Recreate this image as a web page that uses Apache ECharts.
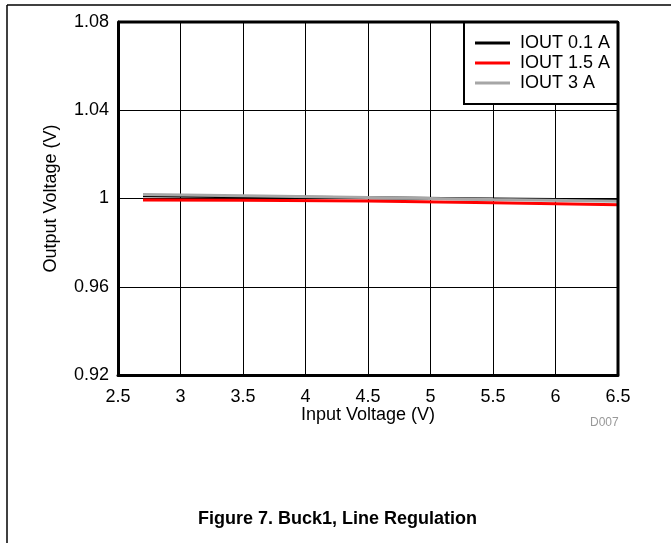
<!DOCTYPE html>
<html>
<head>
<meta charset="utf-8">
<script src="https://cdn.jsdelivr.net/npm/echarts@6/dist/echarts.min.js"></script>
<style>
  html, body { margin: 0; padding: 0; background: #fff; }
  #chart { width: 671px; height: 543px; }
</style>
</head>
<body>
<div id="chart"></div>
<script>
// input voltage points (V)
const vin = [2.7, 3.5, 4.5, 5.5, 6.5];
// output voltage per load current (V)
const iout01 = [1.0012, 1.0008, 1.0003, 0.9998, 0.9993];
const iout15 = [0.9993, 0.9992, 0.9989, 0.9981, 0.9972];
const iout3 = [1.0018, 1.0012, 1.0004, 0.9995, 0.9987];
const seriesNames = ['IOUT 0.1 A', 'IOUT 1.5 A', 'IOUT 3 A'];
const seriesColors = ['#000000', '#ff0000', '#a6a6a6'];

const font = 'Liberation Sans, Arial, sans-serif';
const chart = echarts.init(document.getElementById('chart'));

function pairs(ys) {
    return vin.map((x, i) => [x, ys[i]]);
}

const seriesData = [iout01, iout15, iout3];

const option = {
    animation: false,
    backgroundColor: '#fff',
    textStyle: { fontFamily: font },
    grid: { left: 118, right: 53, top: 22, bottom: 168 },
    legend: {
        orient: 'vertical',
        left: 464,
        top: 22,
        backgroundColor: '#fff',
        borderColor: '#000',
        borderWidth: 2,
        borderRadius: 0,
        padding: [11, 8, 11, 11],
        itemGap: 0,
        itemWidth: 35,
        itemHeight: 3,
        icon: 'rect',
        textStyle: { fontSize: 18, color: '#000', fontFamily: font, padding: [0, 0, 0, 5], lineHeight: 20 },
        data: seriesNames
    },
    xAxis: {
        type: 'value',
        min: 2.5,
        max: 6.5,
        interval: 0.5,
        name: 'Input Voltage (V)',
        nameLocation: 'middle',
        nameGap: 31,
        nameMoveOverlap: false,
        nameTextStyle: { fontSize: 18, color: '#000', fontFamily: font },
        axisLine: { show: true, lineStyle: { color: '#000', width: 3 } },
        axisTick: { show: false },
        axisLabel: { fontSize: 18, color: '#000', margin: 13, fontFamily: font },
        splitLine: { show: true, lineStyle: { color: '#000', width: 1 } }
    },
    yAxis: {
        type: 'value',
        min: 0.92,
        max: 1.08,
        interval: 0.04,
        name: 'Output Voltage (V)',
        nameLocation: 'middle',
        nameGap: 58,
        nameMoveOverlap: false,
        nameTextStyle: { fontSize: 18, color: '#000', fontFamily: font },
        axisLine: { show: true, lineStyle: { color: '#000', width: 3 } },
        axisTick: { show: false },
        axisLabel: {
            fontSize: 18, color: '#000', margin: 9, fontFamily: font,
            formatter: v => String(parseFloat(v.toFixed(2)))
        },
        splitLine: { show: true, lineStyle: { color: '#000', width: 1 } }
    },
    graphic: [
        // outer page frame
        { type: 'line', shape: { x1: 7, y1: 5, x2: 671, y2: 5 }, style: { stroke: '#000', lineWidth: 1.5 } },
        { type: 'line', shape: { x1: 7, y1: 5, x2: 7, y2: 543 }, style: { stroke: '#000', lineWidth: 1.5 } },
        // right and top frame of the plot box
        { type: 'line', shape: { x1: 118, y1: 22, x2: 618, y2: 22 }, style: { stroke: '#000', lineWidth: 3 }, z: 10 },
        { type: 'line', shape: { x1: 618, y1: 22, x2: 618, y2: 375 }, style: { stroke: '#000', lineWidth: 3 }, z: 10 },
        {
            type: 'text', left: 590, top: 417,
            style: { text: 'D007', fill: '#999', font: '12px ' + font }
        },
        {
            type: 'text', left: 198, top: 510,
            style: { text: 'Figure 7. Buck1, Line Regulation', fill: '#000', font: 'bold 18px ' + font }
        }
    ],
    series: seriesNames.map((name, i) => ({
        name: name,
        type: 'line',
        data: pairs(seriesData[i]),
        showSymbol: false,
        symbol: 'none',
        color: seriesColors[i],
        lineStyle: { width: 3, color: seriesColors[i] },
        z: 3 + i
    }))
};

chart.setOption(option);
</script>
</body>
</html>
